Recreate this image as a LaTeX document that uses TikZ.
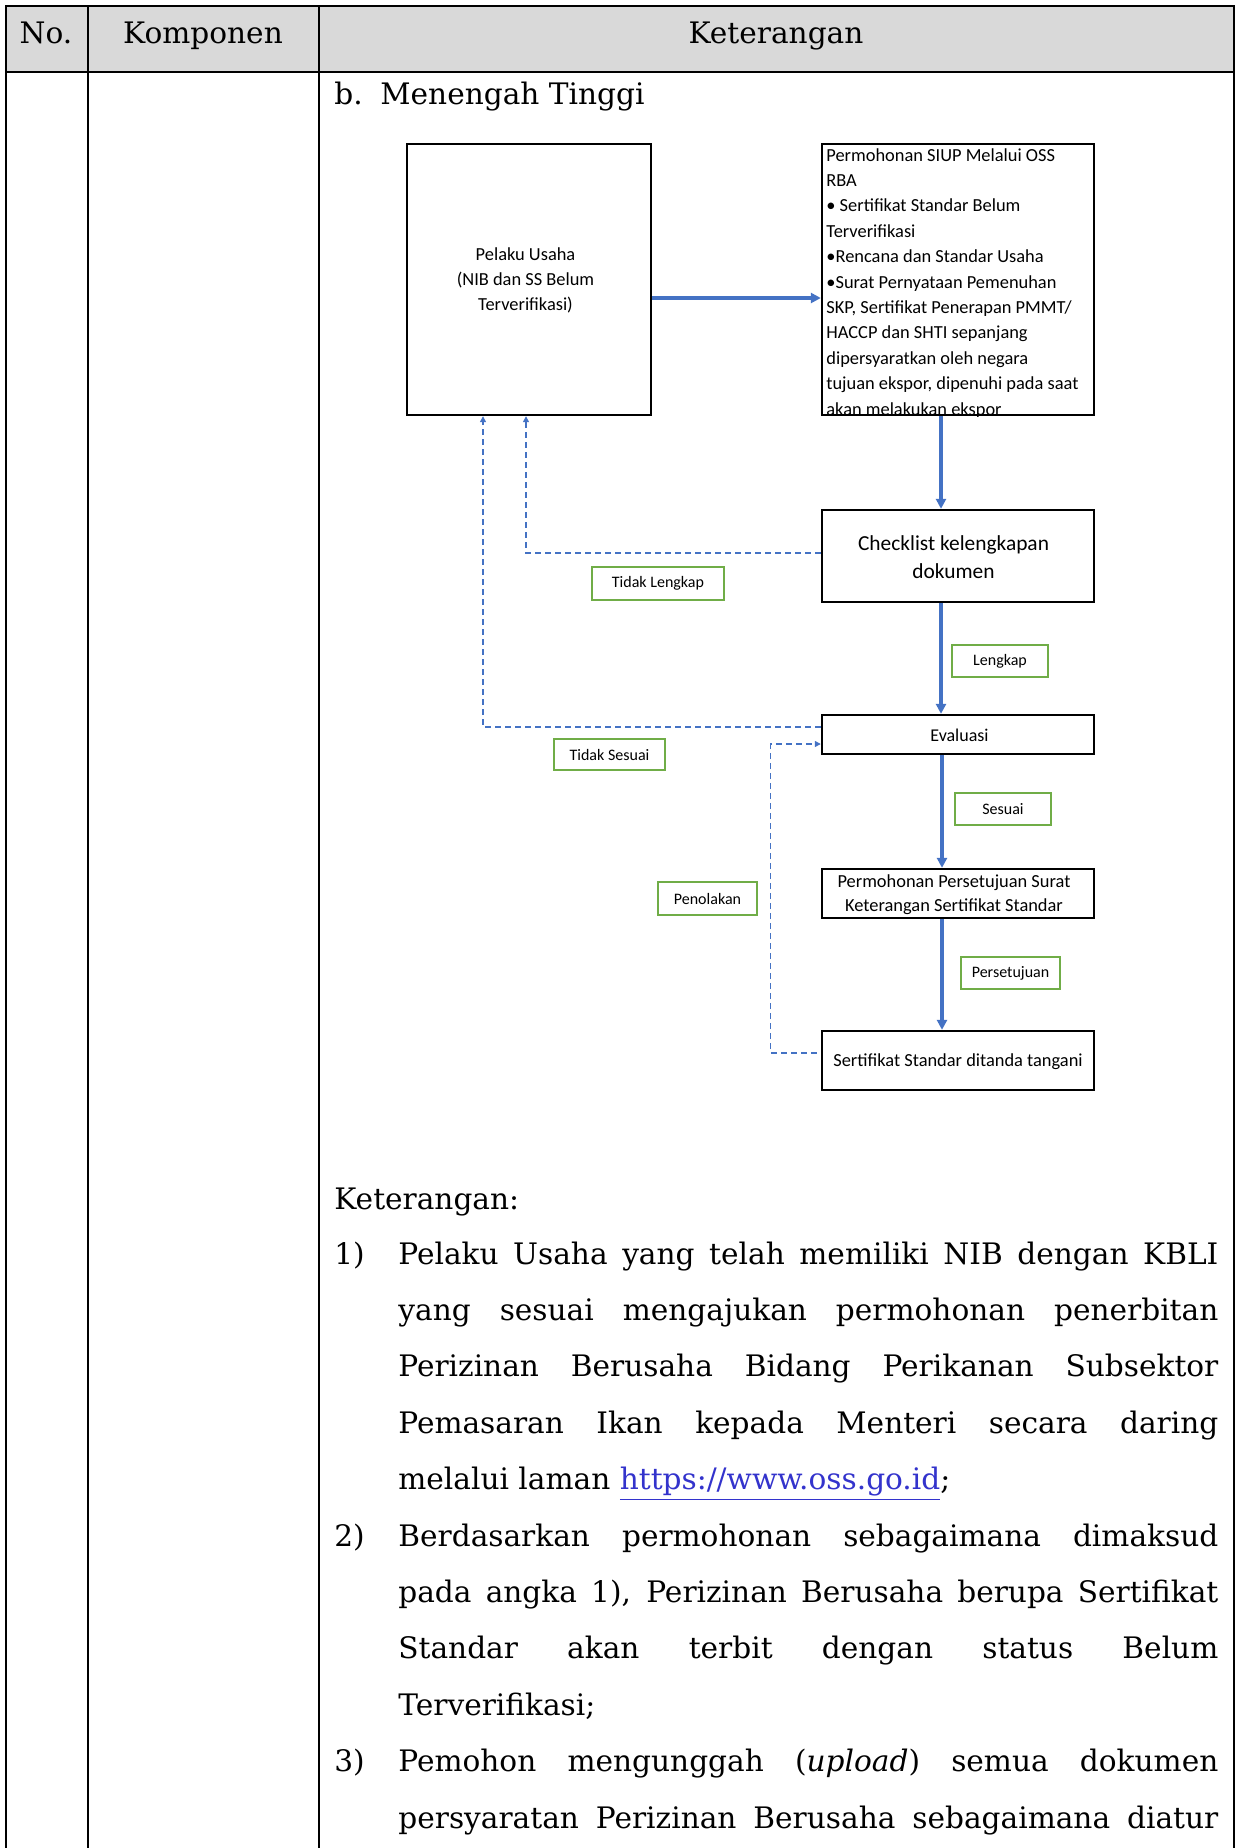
\documentclass[tikz,border=0pt]{standalone}
\usepackage{fontspec}
\setmainfont{DejaVu Serif}
\newfontfamily\carlito{Carlito}
\usetikzlibrary{arrows.meta}
\definecolor{hdr}{HTML}{D9D9D9}
\definecolor{ablue}{HTML}{4472C4}
\definecolor{lgreen}{HTML}{70AD47}
\definecolor{linkblue}{HTML}{3333CC}
\newcommand{\jline}[1]{\makebox[410pt][s]{#1}}
\begin{document}
\begin{tikzpicture}[x=0.5pt,y=-0.5pt,
  flowbox/.style={draw=black,line width=1.2pt,inner sep=0pt,align=center},
  ftext/.style={inner sep=0pt,align=center},
  lbl/.style={draw=lgreen,line width=1pt,inner sep=0pt,font=\carlito\fontsize{8}{9.6}\selectfont},
  flow/.style={draw=ablue,line width=1.6pt,-{Triangle[length=5pt,width=5pt]}},
  back/.style={draw=ablue,line width=0.6pt,dash pattern=on 3pt off 2pt,-{Triangle[length=3pt,width=3pt]}},
  body/.style={anchor=base west,inner sep=0pt,font=\fontsize{14.8}{17}\selectfont},
  head/.style={anchor=base,inner sep=0pt,font=\fontsize{14.8}{17}\selectfont},
]
\useasboundingbox (0,0) rectangle (1240,1848);
% table
\fill[hdr] (6,6) rectangle (1234,72);
\draw[line width=1pt] (5,6) -- (1235,6);
\draw[line width=1pt] (5,72) -- (1235,72);
\foreach \xx in {6,88,319,1234} {\draw[line width=1pt] (\xx,5) -- (\xx,1850);}
\node[head] (hno) at (46,43) {No.};
\node[head] (hkomp) at (203,43) {Komponen};
\node[head] (hket) at (776,43) {Keterangan};
\node[body] (bnum) at (334,104) {b.};
\node[body] (btitle) at (380,104) {Menengah Tinggi};

% diagram
\node[flowbox,minimum width=122pt,minimum height=135.5pt] (pu) at (529,279.5) {};
\node[ftext,font=\carlito\fontsize{9.2}{12.5}\selectfont] (putxt) at (525.5,280) {Pelaku Usaha\\(NIB dan SS Belum\\Terverifikasi)};
\begin{scope}
\clip (822,144) rectangle (1094,416);
\node[anchor=north west,inner sep=0pt,align=left,font=\carlito\fontsize{9.2}{12.7}\selectfont] (siuptxt) at (826,148) {Permohonan SIUP Melalui OSS\\RBA\\• Sertifikat Standar Belum\\Terverifikasi\\•Rencana dan Standar Usaha\\•Surat Pernyataan Pemenuhan\\SKP, Sertifikat Penerapan PMMT/\\HACCP dan SHTI sepanjang\\dipersyaratkan oleh negara\\tujuan ekspor, dipenuhi pada saat\\akan melakukan ekspor};
\end{scope}
\node[flowbox,minimum width=136pt,minimum height=135.5pt] (siup) at (958,279.5) {};
\node[flowbox,minimum width=136pt,minimum height=46pt] (chk) at (958,556) {};
\node[ftext,font=\carlito\fontsize{10.7}{14.1}\selectfont] (chktxt) at (953.5,557) {Checklist kelengkapan\\dokumen};
\node[flowbox,minimum width=136pt,minimum height=19.5pt] (eval) at (958,734.5) {};
\node[ftext,font=\carlito\fontsize{9}{11}\selectfont] (evaltxt) at (959.5,735.5) {Evaluasi};
\node[flowbox,minimum width=136pt,minimum height=24.5pt] (pers) at (958,893.5) {};
\node[ftext,font=\carlito\fontsize{9.2}{12}\selectfont] (perstxt) at (954,895) {Permohonan Persetujuan Surat\\Keterangan Sertifikat Standar};
\node[flowbox,minimum width=136pt,minimum height=29.5pt] (sert) at (958,1060.5) {};
\node[ftext,font=\carlito\fontsize{9.2}{11}\selectfont] (serttxt) at (958,1061.5) {Sertifikat Standar ditanda tangani};

\draw[flow] ([yshift=-9.25pt]pu.east) -- ([yshift=-9.25pt]siup.west);
\draw[flow] ([xshift=-8.5pt]siup.south) -- ([xshift=-8.5pt]chk.north);
\draw[flow] ([xshift=-8.5pt]chk.south) -- ([xshift=-8.5pt]eval.north);
\draw[flow] ([xshift=-8pt]eval.south) -- ([xshift=-8pt]pers.north);
\draw[flow] ([xshift=-8pt]pers.south) -- ([xshift=-8pt]sert.north);

\draw[back] ([yshift=1.5pt]chk.west) -| ([xshift=-1.5pt]pu.south);
\draw[back] ([yshift=3.75pt]eval.west) -| ([xshift=-23pt]pu.south);
\draw[back] ([yshift=3.75pt,xshift=-2pt]sert.west) -- ++(-23pt,0) |- ([yshift=-4.75pt]eval.west);

\node[lbl,minimum width=66pt,minimum height=16.5pt] (ltl) at (658,583.5) {Tidak Lengkap};
\node[lbl,minimum width=48pt,minimum height=16pt] (ll) at (1000,661) {Lengkap};
\node[lbl,minimum width=55.5pt,minimum height=15.5pt] (lts) at (609.5,754.5) {Tidak Sesuai};
\node[lbl,minimum width=48pt,minimum height=16pt] (ls) at (1003,809) {Sesuai};
\node[lbl,minimum width=49.5pt,minimum height=16.5pt] (lp) at (707.5,898.5) {Penolakan};
\node[lbl,minimum width=49.5pt,minimum height=16pt] (lpe) at (1010.5,973) {Persetujuan};

% explanation
\node[body] (ket) at (334,1209) {Keterangan:};
\node[body] (n1) at (334,1264) {1)};
\node[body] (t1) at (398,1264) {\jline{Pelaku Usaha yang telah memiliki NIB dengan KBLI}};
\node[body] (t2) at (398,1320.4) {\jline{yang sesuai mengajukan permohonan penerbitan}};
\node[body] (t3) at (398,1376.8) {\jline{Perizinan Berusaha Bidang Perikanan Subsektor}};
\node[body] (t4) at (398,1433.2) {\jline{Pemasaran Ikan kepada Menteri secara daring}};
\node[body] (t5) at (398,1489.6) {melalui laman {\color{linkblue}\underline{https://www.oss.go.id}};};
\node[body] (n2) at (334,1546) {2)};
\node[body] (t6) at (398,1546) {\jline{Berdasarkan permohonan sebagaimana dimaksud}};
\node[body] (t7) at (398,1602.4) {\jline{pada angka 1), Perizinan Berusaha berupa Sertifikat}};
\node[body] (t8) at (398,1658.8) {\jline{Standar akan terbit dengan status Belum}};
\node[body] (t9) at (398,1715.2) {Terverifikasi;};
\node[body] (n3) at (334,1771.6) {3)};
\node[body] (t10) at (398,1771.6) {\jline{Pemohon mengunggah (\textit{upload}) semua dokumen}};
\node[body] (t11) at (398,1828) {\jline{persyaratan Perizinan Berusaha sebagaimana diatur}};
\end{tikzpicture}
\end{document}
